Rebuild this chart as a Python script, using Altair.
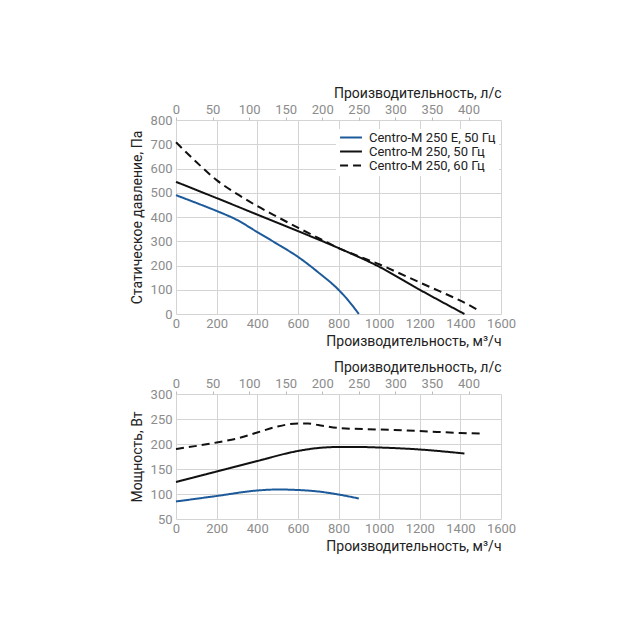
import altair as alt
import pandas as pd

series_names = ["Centro-M 250 E, 50 Гц", "Centro-M 250, 50 Гц", "Centro-M 250, 60 Гц"]
series_colors = ["#1d5a9a", "#111111", "#111111"]
series_dashes = [[1, 0], [1, 0], [8, 5]]

# Static pressure curves (m3/h, Pa)
p_e50_flow = [0, 100, 200, 300, 400, 500, 600, 700, 800, 850, 900]
p_e50_val = [490, 458, 425, 388, 338, 288, 236, 172, 100, 54, 0]
p_50_flow = [0, 200, 400, 600, 800, 1000, 1200, 1420]
p_50_val = [545, 478, 410, 342, 272, 195, 100, 0]
p_60_flow = [0, 100, 200, 300, 400, 500, 600, 700, 800, 900, 1000, 1100, 1200, 1300, 1400, 1490]
p_60_val = [708, 627, 552, 495, 445, 400, 356, 314, 272, 238, 205, 168, 130, 93, 55, 15]

# Power curves (m3/h, W)
w_e50_flow = [0, 200, 400, 500, 600, 700, 800, 900]
w_e50_val = [85, 96, 107, 109, 108, 105, 99, 91]
w_50_flow = [0, 200, 400, 600, 700, 800, 900, 1000, 1200, 1420]
w_50_val = [124, 145, 166, 186, 192, 194, 194, 193, 189, 181]
w_60_flow = [0, 200, 300, 400, 500, 600, 650, 700, 800, 1000, 1200, 1400, 1500]
w_60_val = [190, 203, 211, 223, 235, 241, 241, 238, 232, 229, 226, 222, 221]

flow_ticks = [0, 200, 400, 600, 800, 1000, 1200, 1400, 1600]
ls_ticks = [0, 50, 100, 150, 200, 250, 300, 350, 400]
pressure_ticks = [0, 100, 200, 300, 400, 500, 600, 700, 800]
power_ticks = [50, 100, 150, 200, 250, 300]


def frame(groups, value_name):
    rows = []
    for name, fl, vals in groups:
        for f, v in zip(fl, vals):
            rows.append({"flow": f, value_name: v, "series": name})
    return pd.DataFrame(rows)


df_p = frame([(series_names[0], p_e50_flow, p_e50_val),
              (series_names[1], p_50_flow, p_50_val),
              (series_names[2], p_60_flow, p_60_val)], "pressure")
df_w = frame([(series_names[0], w_e50_flow, w_e50_val),
              (series_names[1], w_50_flow, w_50_val),
              (series_names[2], w_60_flow, w_60_val)], "power")
df_ls = pd.DataFrame({"ls": [ls_ticks[0], ls_ticks[-1]]})

FONT = "Roboto"
LABEL_COLOR = "#8c8c8c"
TITLE_COLOR = "#222222"
GRID = "#d4d4d4"
W = 325


def bottom_x():
    return alt.X("flow:Q", scale=alt.Scale(domain=[0, 1600], nice=False),
                 axis=alt.Axis(values=flow_ticks, format="d", labelOverlap=False, labelFlush=False,
                               title="Производительность, м³/ч",
                               titleAnchor="end", titleAlign="right", grid=True, gridColor=GRID,
                               ticks=False, domain=False, labelPadding=3, titlePadding=4))


def top_layer():
    return alt.Chart(df_ls).mark_point(opacity=0).encode(
        x=alt.X("ls:Q", scale=alt.Scale(domain=[0, 1600 / 3.6], nice=False),
                axis=alt.Axis(orient="top", values=ls_ticks, format="d", labelOverlap=False,
                              labelFlush=False,
                              title="Производительность, л/с",
                              titleAnchor="end", titleAlign="right", grid=False, ticks=True,
                              tickSize=3, tickColor="#bbbbbb", domain=False,
                              labelPadding=1, titlePadding=3))
    )


def legend():
    return alt.Legend(title=None, orient="none", legendX=160, legendY=9,
                      symbolType="stroke", symbolSize=480, symbolStrokeWidth=2,
                      labelFontSize=13, labelColor=TITLE_COLOR, labelFont=FONT,
                      fillColor="white", padding=3, rowPadding=0,
                      clipHeight=11, labelOffset=6)


color = alt.Color("series:N", scale=alt.Scale(domain=series_names, range=series_colors),
                  legend=legend())
dash = alt.StrokeDash("series:N", scale=alt.Scale(domain=series_names, range=series_dashes),
                      legend=legend())

pressure_lines = alt.Chart(df_p).mark_line(strokeWidth=2, interpolate="monotone").encode(
    x=bottom_x(),
    y=alt.Y("pressure:Q", scale=alt.Scale(domain=[0, 800], nice=False),
            axis=alt.Axis(values=pressure_ticks, title="Статическое давление, Па",
                          labelFlush=False,
                          grid=True, gridColor=GRID, ticks=False, domain=False,
                          labelPadding=4, titlePadding=6)),
    color=color,
    strokeDash=dash,
)

top_chart = alt.layer(pressure_lines, top_layer()).resolve_scale(x="independent").properties(
    width=W, height=194)

power_lines = alt.Chart(df_w).mark_line(strokeWidth=2, interpolate="monotone").encode(
    x=bottom_x(),
    y=alt.Y("power:Q", scale=alt.Scale(domain=[50, 300], nice=False),
            axis=alt.Axis(values=power_ticks, title="Мощность, Вт",
                          labelFlush=False,
                          grid=True, gridColor=GRID, ticks=False, domain=False,
                          labelPadding=4, titlePadding=6)),
    color=alt.Color("series:N", scale=alt.Scale(domain=series_names, range=series_colors), legend=None),
    strokeDash=alt.StrokeDash("series:N", scale=alt.Scale(domain=series_names, range=series_dashes), legend=None),
)

bottom_chart = alt.layer(power_lines, top_layer()).resolve_scale(x="independent").properties(
    width=W, height=125)

chart = alt.vconcat(top_chart, bottom_chart, spacing=12).properties(
    padding={"left": 130, "top": 86, "right": 5, "bottom": 5}
).configure_axis(
    labelFont=FONT, labelFontSize=13, labelColor=LABEL_COLOR,
    titleFont=FONT, titleFontSize=14, titleFontWeight="normal", titleColor=TITLE_COLOR,
).configure_view(stroke=None).configure_legend(labelFont=FONT)

chart.save("out.html", embed_options={"renderer": "svg", "actions": False})
